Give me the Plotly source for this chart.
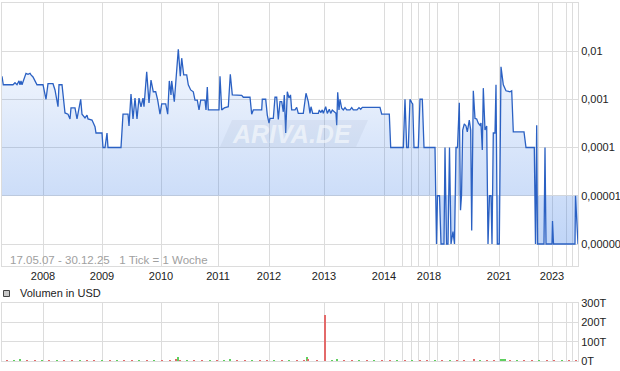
import plotly.graph_objects as go

W, H = 620, 371

# ---- price data (week-tick index, price in USD) ----
ticks = [0, 1.3, 11, 13, 15, 17, 18, 19, 20, 21, 23, 24, 26, 28, 29, 31, 33, 35, 41, 44,
         46, 48, 51, 53, 55, 56, 57, 60, 63, 66, 68, 69, 73, 75, 78.7, 80, 83, 85, 86, 90,
         93, 94, 100, 101, 103, 105, 106, 119, 121, 126, 127, 129, 131, 133, 135, 137, 139, 141, 142, 144.7,
         147, 149, 151.3, 153.7, 155.7, 158, 159.7, 163.7, 165.7, 167.3, 169, 169.7, 172.3, 173.7, 176.3, 178.3, 179.7, 181.7, 184.7, 186.3,
         188.7, 191.3, 193, 195.3, 197, 198.7, 203, 204, 205.3, 206.3, 217, 218, 219.7, 222.3, 226.3, 228.3, 230.3, 239.7, 241.3, 248,
         249.7, 251.3, 259.7, 260.3, 263.7, 265.3, 267, 268, 271.3, 273, 274.7, 276.3, 278, 279.7, 281.3, 282.3, 283.7, 285.3, 287, 288.5,
         289.7, 293, 294.7, 296.3, 301.3, 304, 306.3, 308, 309, 310.7, 316.3, 317.3, 318.7, 320.3, 321.3, 323.7, 325.3, 327.3, 328.7, 330.3,
         334, 334.7, 335.7, 337, 338, 339.7, 341.3, 343, 344.7, 348, 349.7, 351.3, 355, 357, 358.7, 360.3, 378, 379.7, 387.3, 388.7,
         401.3, 403, 404.7, 406.3, 408, 409.7, 410.7, 412, 416.3, 418, 420.3, 422, 433, 434.5, 435.5, 437.5, 439, 442, 443, 444.5,
         446, 447.5, 449, 451, 452.5, 454, 455.5, 457.3, 458.5, 459.5, 460.7, 462.3, 464, 465.3, 467.3, 468.7, 469.7, 471.3, 473, 474.7,
         476.3, 478, 479, 480.3, 481.3, 483, 484.7, 486, 487.5, 489, 490, 491.3, 493, 494, 495.3, 497.3, 499, 501.3, 504, 508,
         509.7, 511.3, 522, 524, 532.3, 533.5, 534.7, 535.5, 542, 543, 544, 550, 550.5, 551.5, 573, 573.5, 575.5, 576]

prices = [0.003, 0.002, 0.002, 0.0022, 0.002, 0.0024, 0.002, 0.0024, 0.002, 0.0023, 0.0029, 0.00345, 0.0033, 0.00345, 0.0032, 0.0029, 0.0024, 0.002, 0.002, 0.001,
          0.0021, 0.0021, 0.0021, 0.00156, 0.001, 0.0007, 0.002, 0.002, 0.00052, 0.00049, 0.00039, 0.00066, 0.00066, 0.00039, 0.001, 0.00049, 0.00041, 0.00047, 0.00039, 0.00037,
          0.00027, 0.0002, 0.0002, 0.0001, 0.0001, 0.0002, 0.0001, 0.0001, 0.00049, 0.00049, 0.00028, 0.00128, 0.00039, 0.00106, 0.00039, 0.00106, 0.0007, 0.00106, 0.0007, 0.0037,
          0.00084, 0.0025, 0.00143, 0.00143, 0.00096, 0.00049, 0.0008, 0.0008, 0.00049, 0.0024, 0.00123, 0.0024, 0.00089, 0.0025, 0.0108, 0.003, 0.0071, 0.0032, 0.0032, 0.002,
          0.00156, 0.00143, 0.00096, 0.00096, 0.0006, 0.00096, 0.00096, 0.0006, 0.0018, 0.0006, 0.0006, 0.003, 0.0006, 0.00066, 0.0007, 0.0033, 0.00123, 0.0012, 0.0011, 0.0011,
          0.00049, 0.0006, 0.0006, 0.001, 0.001, 0.00047, 0.00032, 0.0004, 0.0004, 0.0011, 0.0011, 0.00038, 0.00089, 0.00089, 0.00055, 0.00123, 0.0002, 0.00143, 0.00106, 0.00123,
          0.0006, 0.0006, 0.00068, 0.00051, 0.00051, 0.00133, 0.00089, 0.00051, 0.0007, 0.00051, 0.00051, 0.0006, 0.00053, 0.0006, 0.00051, 0.0007, 0.00051, 0.00062, 0.00051, 0.0006,
          0.00051, 0.00029, 0.0014, 0.0006, 0.001, 0.00065, 0.0006, 0.00067, 0.0006, 0.0006, 0.00067, 0.0006, 0.0006, 0.00067, 0.00062, 0.00068, 0.00068, 0.00049, 0.00049, 0.0001,
          0.0001, 0.001, 0.0001, 0.0001, 0.001, 0.00085, 0.0008, 0.0001, 0.0001, 0.001, 0.001, 0.0001, 0.0001, 0.000001, 0.00001, 0.00001, 0.000001, 0.000001, 0.0001, 0.000001,
          0.000001, 0.0001, 0.000001, 0.0000018, 0.000001, 0.0001, 0.0001, 0.00085, 0.000005, 0.00001, 0.00023, 0.00031, 0.00028, 0.00021, 0.00037, 0.00023, 0.0000019, 0.0015, 0.0004, 0.00039,
          0.00032, 0.00029, 0.00032, 0.000089, 0.0017, 0.00023, 0.00028, 0.000001, 0.00001, 0.00001, 0.000001, 0.0002, 0.0002, 0.002, 0.000001, 0.000001, 0.0047, 0.002, 0.0015, 0.00143,
          0.0015, 0.00021, 0.00021, 0.0001, 0.0001, 0.000001, 0.00029, 0.000001, 0.000001, 0.0001, 0.000001, 0.000001, 0.000003, 0.000001, 0.000001, 0.00001, 0.000001, 0.000001]

area_threshold = 0.00001

# ---- year grid (tick index of first week of each year) ----
year_ticks = [41, 100, 159, 216, 267, 322, 382, 400, 409, 416, 427, 435, 456, 497, 536, 550, 564, 570]
year_labels = ["2008", "2009", "2010", "2011", "2012", "2013", "2014", "", "", "", "2018", "", "", "2021", "", "2023", "", ""]

price_tickvals = [0.01, 0.001, 0.0001, 0.00001, 0.000001]
price_ticktext = ["0,01", "0,001", "0,0001", "0,00001", "0,00000"]

# ---- volume data (USD) ----
vol_ticks = [5, 12, 18, 25, 33, 40, 47, 55, 62, 70, 78, 85, 92, 100, 108, 115, 122, 130, 137, 145,
             152, 160, 168, 174, 176, 178, 185, 192, 200, 208, 215, 222, 228, 235, 243, 250, 258, 265, 272, 280,
             287, 295, 302, 305, 306, 315, 323, 330, 335, 342, 350, 357, 365, 372, 380, 388, 395, 403, 410, 418,
             425, 433, 440, 448, 455, 462, 472, 478, 485, 492, 499, 501, 503, 508, 515, 522, 530, 537, 545, 552,
             560, 567, 574]
vol_values = [4000, 4500, 12000, 4000, 4500, 4000, 5000, 4000, 4500, 4000, 5000, 4000, 4500, 4000, 4500, 4000, 5000, 4000, 4500, 4000,
              4500, 4000, 5000, 6000, 22000, 5000, 4000, 4500, 4000, 4500, 4000, 5000, 9000, 4000, 4500, 4000, 5000, 4000, 4500, 4000,
              4500, 4000, 5000, 20000, 6000, 4500, 238000, 4000, 12000, 4500, 4000, 5000, 4000, 4500, 4000, 4500, 4000, 5000, 4000, 4500,
              4000, 4500, 4000, 5000, 4000, 4500, 8000, 4500, 4000, 5000, 6000, 12000, 7000, 4500, 4000, 5000, 4000, 4500, 4000, 5000,
              4000, 4500, 4000]
vol_up = [0, 1, 1, 0, 0, 1, 0, 1, 0, 0, 1, 0, 0, 1, 0, 1, 0, 0, 1, 0,
          1, 0, 0, 0, 1, 0, 1, 0, 0, 1, 0, 1, 1, 0, 0, 1, 0, 0, 1, 0,
          1, 0, 0, 1, 0, 0, 0, 1, 1, 0, 0, 1, 0, 1, 0, 0, 1, 0, 1, 0,
          0, 1, 0, 1, 0, 0, 0, 1, 0, 0, 1, 1, 1, 0, 1, 0, 0, 1, 0, 0,
          1, 0, 0]
vol_tickvals = [0, 100000, 200000, 300000]
vol_ticktext = ["0T", "100T", "200T", "300T"]

FONT = "Liberation Sans, Arial, sans-serif"
GRID = "#dcdcdc"

def px_x(p):
    return p / W

def px_y(p):
    return 1 - p / H

fig = go.Figure()

# threshold line for the area fill
fig.add_trace(go.Scatter(x=[ticks[0], ticks[-1]], y=[area_threshold, area_threshold],
                         mode="lines", line=dict(width=0, color="rgba(0,0,0,0)"),
                         hoverinfo="skip", showlegend=False, xaxis="x", yaxis="y"))
fig.add_trace(go.Scatter(x=ticks, y=prices, mode="lines",
                         line=dict(color="#2b61c3", width=1.3),
                         fill="tonexty",
                         fillgradient=dict(type="vertical",
                                           colorscale=[[0, "rgba(45,115,228,0.30)"],
                                                       [0.55, "rgba(45,115,228,0.17)"],
                                                       [1, "rgba(45,115,228,0.05)"]]),
                         showlegend=False, xaxis="x", yaxis="y"))

fig.add_trace(go.Bar(x=vol_ticks, y=vol_values,
                     marker=dict(color=["#5fcf5f" if u else "#e36a6a" for u in vol_up], line=dict(width=0)),
                     width=1.0, showlegend=False, xaxis="x2", yaxis="y2"))

x_dom = [px_x(2), px_x(578)]
axis_common = dict(showgrid=True, gridcolor=GRID, gridwidth=1, zeroline=False,
                   showline=True, linecolor=GRID, linewidth=1, mirror=True,
                   ticks="", automargin=False)

fig.update_layout(
    width=W, height=H,
    margin=dict(l=0, r=0, t=0, b=0),
    paper_bgcolor="white", plot_bgcolor="white",
    font=dict(family=FONT, size=11, color="#222222"),
    bargap=0,
    xaxis=dict(domain=x_dom, range=[0, 576], anchor="y",
               tickmode="array", tickvals=year_ticks, ticktext=year_labels,
               tickfont=dict(size=11, color="#222222"), **axis_common),
    yaxis=dict(domain=[px_y(266), px_y(3)], type="log", range=[-6.456, -1.005],
               side="right", anchor="x",
               tickmode="array", tickvals=price_tickvals, ticktext=price_ticktext,
               tickfont=dict(size=11, color="#222222"), **axis_common),
    xaxis2=dict(domain=x_dom, range=[0, 576], anchor="y2", matches="x",
                tickmode="array", tickvals=year_ticks, showticklabels=False,
                **axis_common),
    yaxis2=dict(domain=[px_y(361), px_y(303)], range=[0, 300000], side="right", anchor="x2",
                tickmode="array", tickvals=vol_tickvals, ticktext=vol_ticktext,
                tickfont=dict(size=11, color="#222222"), **axis_common),
)

# watermark
x0, x1, x2, x3 = px_x(232), px_x(368), px_x(356), px_x(220)
yt, yb = px_y(120), px_y(147)
fig.add_shape(type="path", xref="paper", yref="paper",
              path=f"M {x0} {yt} L {x1} {yt} L {x2} {yb} L {x3} {yb} Z",
              fillcolor="rgba(150,165,190,0.13)", line=dict(width=0), layer="above")
fig.add_annotation(x=px_x(292), y=px_y(134), xref="paper", yref="paper",
                   text="<b><i>ARIVA.DE</i></b>", showarrow=False,
                   font=dict(family=FONT, size=25, color="rgba(255,255,255,0.55)"))

# date range note
fig.add_annotation(x=px_x(8), y=px_y(260), xref="paper", yref="paper", xanchor="left", yanchor="middle",
                   text="17.05.07 - 30.12.25   1 Tick = 1 Woche", showarrow=False,
                   font=dict(family=FONT, size=11.5, color="#a0a0a0"))

# volume legend
fig.add_shape(type="rect", xref="paper", yref="paper",
              x0=px_x(3.5), x1=px_x(9.5), y0=px_y(296.5), y1=px_y(290.5),
              fillcolor="#c8c8c8", line=dict(color="#444444", width=1))
fig.add_annotation(x=px_x(18), y=px_y(293), xref="paper", yref="paper", xanchor="left", yanchor="middle",
                   text="Volumen in USD", showarrow=False,
                   font=dict(family=FONT, size=11, color="#222222"))

fig.write_html("out.html", config={"displayModeBar": False},
               post_script="document.body.style.margin='0';document.body.style.padding='0';")
